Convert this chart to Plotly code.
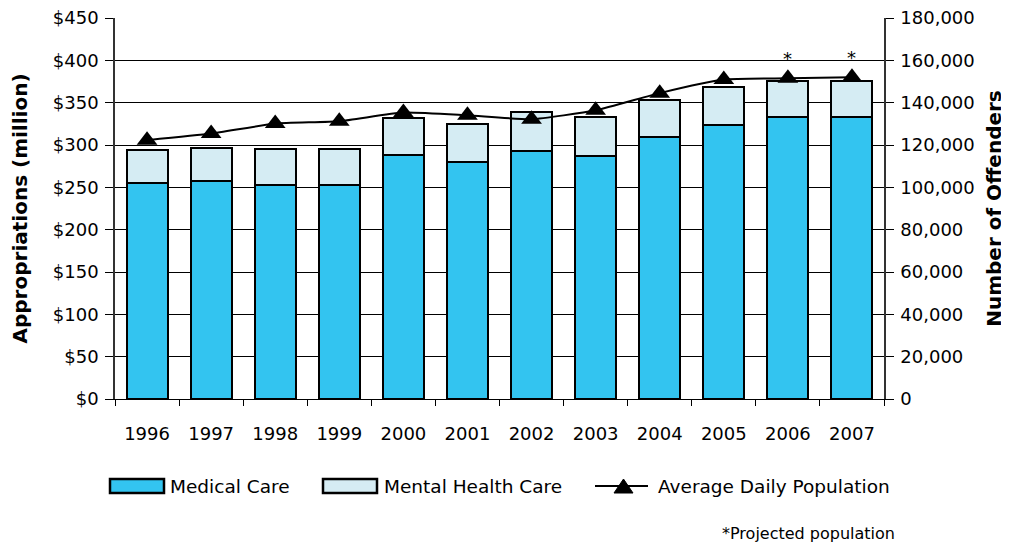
import plotly.graph_objects as go

years = [1996, 1997, 1998, 1999, 2000, 2001, 2002, 2003, 2004, 2005, 2006, 2007]
medical = [255, 257, 252.5, 252.5, 288, 280, 293, 287, 310, 324, 333, 333]
total = [294, 297, 295, 295, 332, 325, 339, 333, 353.5, 368, 376, 376]
mental = [t - m for t, m in zip(total, medical)]
population = [122300, 125400, 130100, 131200, 135300, 134000, 132200, 136400, 144500, 150900, 151500, 152000]
projected_years = [2006, 2007]
series_names = ["Medical Care", "Mental Health Care", "Average Daily Population"]

font = "DejaVu Sans, Verdana, sans-serif"
c_med = "#33C4F0"
c_men = "#D5ECF3"

fig = go.Figure()
fig.add_trace(go.Bar(x=years, y=medical, name=series_names[0], width=0.64,
                     marker=dict(color=c_med, line=dict(color="black", width=2))))
fig.add_trace(go.Bar(x=years, y=mental, name=series_names[1], width=0.64,
                     marker=dict(color=c_men, line=dict(color="black", width=2))))
fig.add_trace(go.Scatter(x=years, y=population, name=series_names[2], yaxis="y2",
                         mode="lines+markers", line=dict(color="black", width=2, shape="spline", smoothing=0.5),
                         marker=dict(symbol="triangle-up", size=18, color="black")))

for yr in projected_years:
    i = years.index(yr)
    fig.add_annotation(x=yr, y=population[i], xref="x", yref="y2", text="*", showarrow=False,
                       yshift=20, font=dict(size=18, color="black", family=font))

# manual legend (paper coordinates relative to plot area; page pixels -> paper)
PL, PR, PT, PB = 115, 884, 18, 399

def px(x):
    return (x - PL) / float(PR - PL)

def py(y):
    return (PB - y) / float(PB - PT)

shapes = []
shapes.append(dict(type="rect", xref="paper", yref="paper", x0=px(110), x1=px(164), y0=py(493), y1=py(479),
                   fillcolor=c_med, line=dict(color="black", width=2.5)))
shapes.append(dict(type="rect", xref="paper", yref="paper", x0=px(323), x1=px(377), y0=py(493), y1=py(479),
                   fillcolor=c_men, line=dict(color="black", width=2.5)))
shapes.append(dict(type="line", xref="paper", yref="paper", x0=px(595), x1=px(648), y0=py(486), y1=py(486),
                   line=dict(color="black", width=2)))
shapes.append(dict(type="path", xref="paper", yref="paper",
                   path=f"M {px(614)} {py(493)} L {px(633)} {py(493)} L {px(623.5)} {py(479)} Z",
                   fillcolor="black", line=dict(color="black", width=1)))
fig.update_layout(shapes=shapes)

for name, xpos in zip(series_names, [168, 382, 656]):
    fig.add_annotation(x=px(xpos), y=py(487), xref="paper", yref="paper", xanchor="left", yanchor="middle",
                       text=name, showarrow=False, font=dict(size=18.5, color="black", family=font))

fig.add_annotation(x=px(897), y=py(533), xref="paper", yref="paper", xanchor="right", yanchor="middle",
                   text="*Projected population", showarrow=False, font=dict(size=16, color="black", family=font))

fig.update_layout(
    width=1001, height=538,
    barmode="stack",
    plot_bgcolor="white", paper_bgcolor="white",
    margin=dict(l=107, r=125, t=10, b=147, autoexpand=False),
    font=dict(family=font, size=18, color="black"),
    showlegend=False,
    xaxis=dict(range=[1995.5, 2007.5], tickmode="array", tickvals=years, ticks="",
               showline=True, linecolor="black", linewidth=1, showgrid=False, zeroline=False,
               automargin=False, ticklabelstandoff=18,
               minor=dict(ticks="outside", tickmode="linear", tick0=1995.5, dtick=1, ticklen=6,
                          tickcolor="black", showgrid=False),
               tickfont=dict(size=18)),
    yaxis=dict(range=[0, 450], dtick=50, tickprefix="$", showgrid=True, gridcolor="black", gridwidth=1,
               showline=True, linecolor="#333", linewidth=1.5, ticks="outside", ticklen=8,
               tickcolor="black", ticklabelstandoff=3, ticklabeloverflow="allow",
               tickfont=dict(size=18), zeroline=False, automargin=False,
               title=dict(text="<b>Appropriations (million)</b>", font=dict(size=20), standoff=20)),
    yaxis2=dict(range=[0, 180000], dtick=20000, tickformat=",", overlaying="y", side="right",
                showgrid=False, showline=True, linecolor="#333", linewidth=1.5, ticks="outside",
                tickcolor="black", ticklen=8, ticklabelstandoff=3, ticklabeloverflow="allow",
                tickfont=dict(size=18), zeroline=False, automargin=False,
                title=dict(text="<b>Number of Offenders</b>", font=dict(size=20), standoff=13)),
)

fig.write_html("out.html")
